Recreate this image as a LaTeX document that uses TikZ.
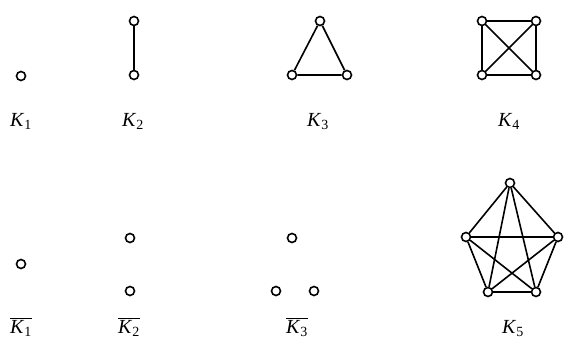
\documentclass[tikz,border=0pt]{standalone}
\usepackage{fontspec}
\setmainfont{Liberation Serif}
\usepackage{tikz}
\usetikzlibrary{positioning}

\newcommand{\graphK}[1]{\textit{K}\textsubscript{#1}}
\newcommand{\graphKbar}[1]{$\overline{\hbox{\textit{K}\textsubscript{#1}}}$}

\tikzset{
  vtx/.style={circle, draw, line width=1.6pt, fill=white, inner sep=0pt, minimum size=9pt},
  edge/.style={line width=1.6pt},
  lbl/.style={anchor=base, inner sep=0pt, font=\fontsize{20}{22}\selectfont}
}

\begin{document}
\begin{tikzpicture}[x=1pt, y=-1pt]
  \useasboundingbox (0,0) rectangle (566,340);

  % K1
  \node[vtx] (a1) at (21,76) {};
  \node[lbl] (la) at (21,126) {\graphK{1}};

  % K2
  \node[vtx] (b1) at (134,21) {};
  \node[vtx] (b2) at (134,75) {};
  \draw[edge] (b1) -- (b2);
  \node[lbl] (lb) at (133,126) {\graphK{2}};

  % K3
  \node[vtx] (c1) at (320,21) {};
  \node[vtx] (c2) at (292,75) {};
  \node[vtx] (c3) at (347,75) {};
  \draw[edge] (c1) -- (c2) -- (c3) -- (c1);
  \node[lbl] (lc) at (318,126) {\graphK{3}};

  % K4
  \node[vtx] (d1) at (482,21) {};
  \node[vtx] (d2) at (536,21) {};
  \node[vtx] (d3) at (536,75) {};
  \node[vtx] (d4) at (482,75) {};
  \draw[edge] (d1) -- (d2) -- (d3) -- (d4) -- (d1);
  \draw[edge] (d1) -- (d3);
  \draw[edge] (d2) -- (d4);
  \node[lbl] (ld) at (509,126) {\graphK{4}};

  % complements
  \node[vtx] (e1) at (21,264) {};
  \node[lbl] (le) at (21,333) {\graphKbar{1}};

  \node[vtx] (f1) at (130,238) {};
  \node[vtx] (f2) at (130,291) {};
  \node[lbl] (lf) at (129,333) {\graphKbar{2}};

  \node[vtx] (g1) at (292,238) {};
  \node[vtx] (g2) at (276,291) {};
  \node[vtx] (g3) at (314,291) {};
  \node[lbl] (lg) at (297,333) {\graphKbar{3}};

  % K5
  \node[vtx] (h1) at (510,183) {};
  \node[vtx] (h2) at (558,237) {};
  \node[vtx] (h3) at (536,292) {};
  \node[vtx] (h4) at (488,292) {};
  \node[vtx] (h5) at (466,237) {};
  \foreach \i/\j in {1/2,1/3,1/4,1/5,2/3,2/4,2/5,3/4,3/5,4/5}
    \draw[edge] (h\i) -- (h\j);
  \node[lbl] (lh) at (513,333) {\graphK{5}};
\end{tikzpicture}
\end{document}
